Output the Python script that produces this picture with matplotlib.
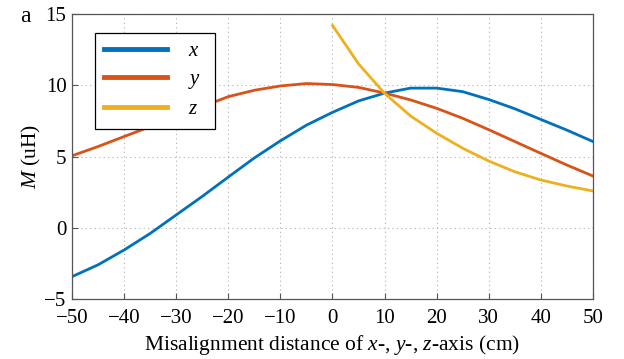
import matplotlib
matplotlib.use("Agg")
import matplotlib.pyplot as plt
import numpy as np

dist_xy = [-50, -45, -40, -35, -30, -25, -20, -15, -10, -5, 0, 5, 10, 15, 20, 25, 30, 35, 40, 45, 50]
M_x = [-3.43, -2.6, -1.56, -0.4, 0.9, 2.2, 3.56, 4.9, 6.1, 7.2, 8.1, 8.9, 9.45, 9.8, 9.8, 9.55, 9.0, 8.35, 7.6, 6.85, 6.05]
M_y = [5.05, 5.7, 6.4, 7.1, 7.8, 8.5, 9.2, 9.65, 9.95, 10.12, 10.05, 9.85, 9.45, 8.97, 8.38, 7.68, 6.88, 6.05, 5.22, 4.4, 3.63]
dist_z = [0, 5, 10, 15, 20, 25, 30, 35, 40, 45, 50]
M_z = [14.2, 11.5, 9.43, 7.84, 6.63, 5.58, 4.68, 3.93, 3.35, 2.93, 2.58]

xticks = [-50, -40, -30, -20, -10, 0, 10, 20, 30, 40, 50]
yticks = [-5, 0, 5, 10, 15]

plt.rcParams['font.family'] = ['Liberation Serif', 'DejaVu Serif']
plt.rcParams['mathtext.fontset'] = 'custom'
plt.rcParams['mathtext.it'] = 'Liberation Serif:italic'
plt.rcParams['mathtext.rm'] = 'Liberation Serif'

fig = plt.figure(figsize=(6.24, 3.59), dpi=100)
ax = fig.add_axes([0.1154, 0.1671, 0.8349, 0.7939])

c_x, c_y, c_z = '#0072BD', '#D95319', '#EDB120'
ax.plot(dist_xy, M_x, color=c_x, lw=2.0, label='$x$')
ax.plot(dist_xy, M_y, color=c_y, lw=2.0, label='$y$')
ax.plot(dist_z, M_z, color=c_z, lw=2.0, label='$z$')

ax.set_xlim(-50, 50)
ax.set_ylim(-5, 15)
ax.set_xticks(xticks)
ax.set_yticks(yticks)
ax.set_xticklabels(['\u2212' + str(-t) if t < 0 else str(t) for t in xticks])
ax.set_yticklabels(['\u2212' + str(-t) if t < 0 else str(t) for t in yticks])
ax.tick_params(direction='in', labelsize=15, length=4, color='#555555')
ax.tick_params(axis='x', pad=7)
ax.tick_params(axis='y', pad=4)
ax.grid(True, linestyle=(0, (1, 3)), color='#b0b0b0', lw=0.8)
for s in ax.spines.values():
    s.set_color('#555555')
    s.set_linewidth(0.9)

ax.set_xlabel('Misalignment distance of $x$-, $y$-, $z$-axis (cm)', fontsize=15.5, labelpad=4)
ax.set_ylabel('$M$ (uH)', fontsize=15.5, labelpad=1)

leg = ax.legend(loc='upper left', bbox_to_anchor=(0.044, 0.935), fontsize=15,
                handlelength=3.0, handletextpad=1.0, labelspacing=0.4,
                frameon=True, fancybox=False, edgecolor='black', borderpad=0.45,
                borderaxespad=0, framealpha=1.0)
leg.get_frame().set_linewidth(0.9)
for l in leg.get_lines():
    l.set_linewidth(3.5)
for t in leg.get_texts():
    t.set_text(t.get_text() + '  ')

fig.text(0.033, 0.94, 'a', fontsize=17)

fig.savefig('out.png', dpi=100)
